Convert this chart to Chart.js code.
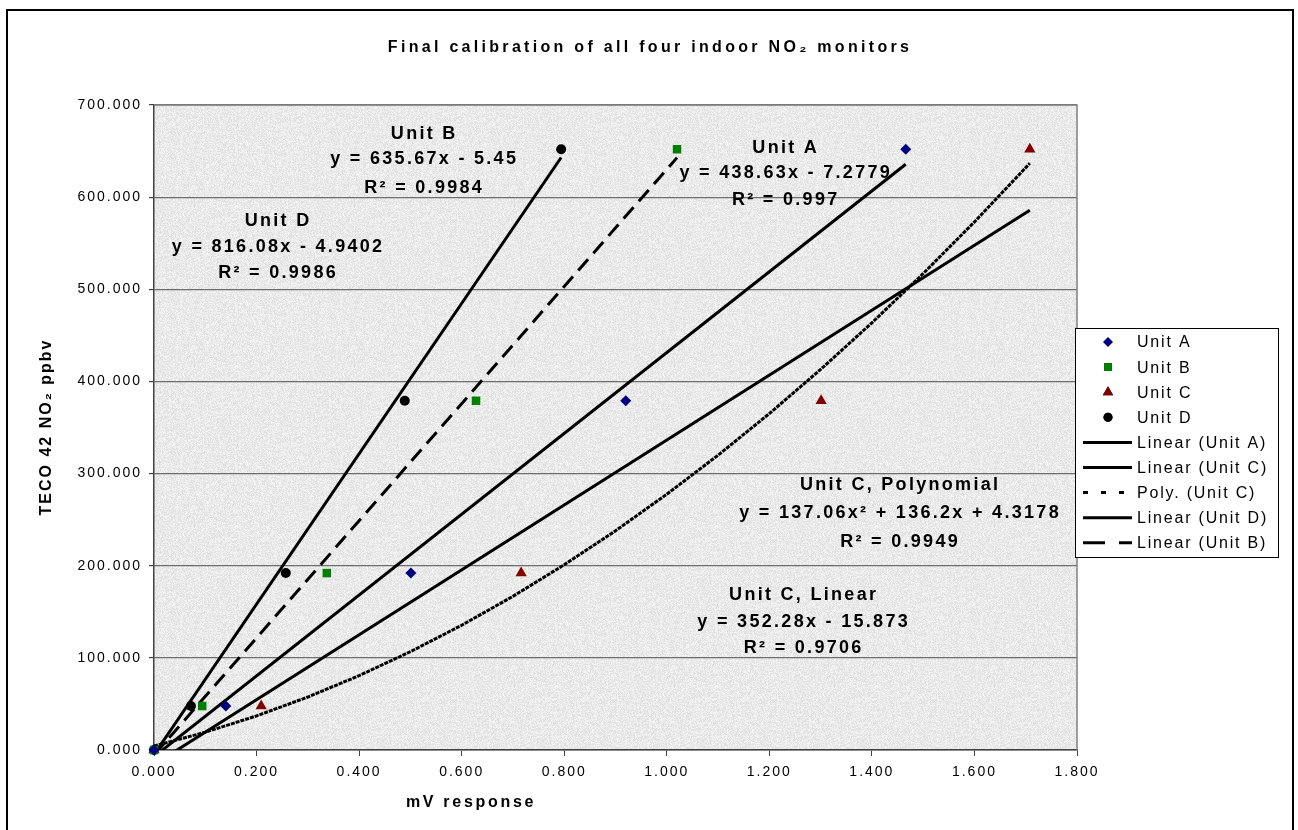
<!DOCTYPE html>
<html>
<head>
<meta charset="utf-8">
<script src="https://cdn.jsdelivr.net/npm/chart.js@4/dist/chart.umd.min.js"></script>
<style>
  body { margin: 0; background: #fff; }
  #wrap { width: 1298px; height: 830px; position: relative; }
</style>
</head>
<body>
<div id="wrap"><canvas id="myChart" width="1298" height="830"></canvas></div>
<script>
// datos (mV, ppbv)
const tecoPpb = [0, 47.7, 192, 379, 652]
const unitA_mv = [0, 0.140, 0.501, 0.920, 1.466]
const unitB_mv = [0, 0.094, 0.337, 0.628, 1.020]
const unitC_mv = [0, 0.209, 0.716, 1.301, 1.708]
const unitD_mv = [0, 0.072, 0.257, 0.489, 0.794]

// lineas de tendencia: extremos de cada recta
const linA_x = [0, 1.466], linA_y = [-7.28, 635.7]
const linC_x = [0, 1.708], linC_y = [-15.87, 585.8]
const linD_x = [0, 0.794], linD_y = [-4.94, 643.0]
const linB_x = [0, 1.020], linB_y = [-5.45, 642.9]

// curva polinomica (Unit C)
const polyC_x = [0, 0.1, 0.2, 0.3, 0.4, 0.5, 0.6, 0.7, 0.8, 0.9, 1.0, 1.1, 1.2, 1.3, 1.4, 1.5, 1.6, 1.708]
const polyC_y = [4.3, 19.3, 37.0, 57.5, 80.7, 106.7, 135.4, 166.8, 201.0, 237.9, 277.6, 319.9, 365.1, 413.0, 463.6, 517.0, 573.1, 636.7]

const legendLabels = ['Unit A', 'Unit B', 'Unit C', 'Unit D', 'Linear (Unit A)', 'Linear (Unit C)', 'Poly. (Unit C)', 'Linear (Unit D)', 'Linear (Unit B)']

const xTicksMax = 1.8, yTicksMax = 700

// textos de las ecuaciones [texto, x, y] en coordenadas de datos
const notes = [
    ['Unit B', 0.527, 668.5], ['y = 635.67x - 5.45', 0.527, 641.4], ['R² = 0.9984', 0.527, 609.9],
    ['Unit A', 1.232, 653.3], ['y = 438.63x - 7.2779', 1.232, 626.2], ['R² = 0.997', 1.232, 596.9],
    ['Unit D', 0.242, 574], ['y = 816.08x - 4.9402', 0.242, 546], ['R² = 0.9986', 0.242, 517.6],
    ['Unit C, Polynomial', 1.455, 287.6], ['y = 137.06x² + 136.2x + 4.3178', 1.455, 257.2], ['R² = 0.9949', 1.455, 225.7],
    ['Unit C, Linear', 1.267, 168.2], ['y = 352.28x - 15.873', 1.267, 138.9], ['R² = 0.9706', 1.267, 110.7]
]

const toPts = (xs, ys) => xs.map((x, i) => ({ x: x, y: ys[i] }))
const FONT = "'Liberation Sans', Arial, sans-serif"

// textura gris del area de trazado
function makeTexture () {
    const c = document.createElement('canvas')
    c.width = 160; c.height = 160
    const g = c.getContext('2d')
    const img = g.createImageData(160, 160)
    let seed = 12345
    const rnd = () => { seed = (seed * 1103515245 + 12345) % 2147483648; return seed / 2147483648 }
    for (let i = 0; i < 160 * 160; i++) {
        const v = Math.round(234 + (rnd() - 0.5) * 26)
        img.data[i * 4] = v; img.data[i * 4 + 1] = v; img.data[i * 4 + 2] = v; img.data[i * 4 + 3] = 255
    }
    g.putImageData(img, 0, 0)
    return c
}
const texture = makeTexture()

const lineDs = (label, pts, dash, legendDash) => ({
    label: label, data: pts, showLine: true, borderColor: '#000', borderWidth: 3,
    borderDash: dash, legendDash: legendDash, pointRadius: 0, pointHoverRadius: 0, fill: false, order: 2
})
const markDs = (label, pts, style, color, r) => ({
    label: label, data: pts, showLine: false, pointStyle: style, pointRadius: r, clip: false,
    backgroundColor: color, borderColor: color, borderWidth: 0, order: 1
})

const datasets = [
    markDs('Unit A', toPts(unitA_mv, tecoPpb), 'rectRot', '#000080', 5.5),
    markDs('Unit B', toPts(unitB_mv, tecoPpb), 'rect', '#008000', 6),
    markDs('Unit C', toPts(unitC_mv, tecoPpb), 'triangle', '#800000', 6.5),
    markDs('Unit D', toPts(unitD_mv, tecoPpb), 'circle', '#000000', 5),
    lineDs('Linear (Unit A)', toPts(linA_x, linA_y), [], []),
    lineDs('Linear (Unit C)', toPts(linC_x, linC_y), [], []),
    lineDs('Poly. (Unit C)', toPts(polyC_x, polyC_y), [4, 1], [5, 13]),
    lineDs('Linear (Unit D)', toPts(linD_x, linD_y), [], []),
    lineDs('Linear (Unit B)', toPts(linB_x, linB_y), [15, 8], [22, 14])
]

const decoPlugin = {
    id: 'deco',
    beforeDraw (chart) {
        const ctx = chart.ctx, a = chart.chartArea
        ctx.save()
        ctx.fillStyle = ctx.createPattern(texture, 'repeat')
        ctx.fillRect(a.left, a.top, a.right - a.left, a.bottom - a.top)
        ctx.restore()
        ctx.letterSpacing = '2px'
    },
    afterDraw (chart) {
        const ctx = chart.ctx, a = chart.chartArea
        const xs = chart.scales.x, ys = chart.scales.y
        ctx.save()
        // marco del area
        ctx.strokeStyle = '#808080'; ctx.lineWidth = 1.5
        ctx.beginPath()
        ctx.moveTo(a.left, a.top); ctx.lineTo(a.right, a.top); ctx.lineTo(a.right, a.bottom)
        ctx.stroke()
        // marco exterior
        ctx.strokeStyle = '#000'; ctx.lineWidth = 2
        ctx.strokeRect(7, 10, 1286, 840)

        ctx.fillStyle = '#000'
        ctx.textAlign = 'center'; ctx.textBaseline = 'middle'
        // titulo
        ctx.font = 'bold 16px ' + FONT
        ctx.letterSpacing = '3.3px'
        ctx.fillText('Final calibration of all four indoor NO\u2082 monitors', 650, 48)
        // titulos de ejes
        ctx.letterSpacing = '2.7px'
        ctx.fillText('mV response', 471, 803)
        ctx.save()
        ctx.translate(47, 427)
        ctx.rotate(-Math.PI / 2)
        ctx.letterSpacing = '2px'
        ctx.fillText('TECO 42 NO\u2082 ppbv', 0, 0)
        ctx.restore()

        // ecuaciones
        ctx.font = 'bold 18px ' + FONT
        ctx.letterSpacing = '2.3px'
        notes.forEach(n => ctx.fillText(n[0], xs.getPixelForValue(n[1]), ys.getPixelForValue(n[2])))

        // leyenda
        const lx = 1075, ly = 328, lw = 203, lh = 229
        ctx.fillStyle = '#fff'; ctx.fillRect(lx, ly, lw, lh)
        ctx.strokeStyle = '#000'; ctx.lineWidth = 1
        ctx.strokeRect(lx + 0.5, ly + 0.5, lw, lh)
        ctx.font = '16px ' + FONT
        ctx.letterSpacing = '1.8px'
        ctx.textAlign = 'left'
        legendLabels.forEach((lab, i) => {
            const ds = chart.data.datasets[i]
            const cy = 342 + i * 25.1
            if (ds.showLine) {
                ctx.strokeStyle = '#000'; ctx.lineWidth = 3
                ctx.setLineDash(ds.legendDash)
                ctx.beginPath(); ctx.moveTo(1083, cy); ctx.lineTo(1132, cy); ctx.stroke()
                ctx.setLineDash([])
            } else {
                Chart.helpers.drawPoint(ctx, {
                    pointStyle: ds.pointStyle, radius: ds.pointRadius - 0.5, borderWidth: 0, rotation: 0
                }, 1108, cy)
                ctx.fillStyle = ds.backgroundColor
                ctx.fill()
            }
            ctx.fillStyle = '#000'
            ctx.fillText(lab, 1137, cy + 1)
        })
        ctx.restore()
    }
}

const ctx = document.getElementById('myChart').getContext('2d')
const myChart = new Chart(ctx, {
    type: 'scatter',
    data: { datasets: datasets },
    options: {
        responsive: false,
        animation: false,
        events: [],
        layout: { padding: { left: 0, top: 105, right: 221, bottom: 0 } },
        plugins: { legend: { display: false }, tooltip: { enabled: false }, title: { display: false } },
        scales: {
            x: {
                type: 'linear', min: 0, max: xTicksMax,
                afterFit: (s) => { s.height = 80 },
                ticks: { stepSize: 0.2, padding: 8, color: '#000', font: { size: 14, family: FONT },
                    callback: (v) => v.toFixed(3), maxRotation: 0 },
                grid: { drawOnChartArea: false, drawTicks: true, tickLength: 6, color: '#404040' },
                border: { color: '#404040', width: 1.5 }
            },
            y: {
                type: 'linear', min: 0, max: yTicksMax,
                afterFit: (s) => { s.width = 154 },
                ticks: { stepSize: 100, padding: 7, color: '#000', font: { size: 14, family: FONT },
                    callback: (v) => v.toFixed(3) },
                grid: { color: '#6e6e6e', lineWidth: 1.2, tickLength: 5, tickColor: '#404040' },
                border: { color: '#404040', width: 1.5 }
            }
        }
    },
    plugins: [decoPlugin]
})
</script>
</body>
</html>
